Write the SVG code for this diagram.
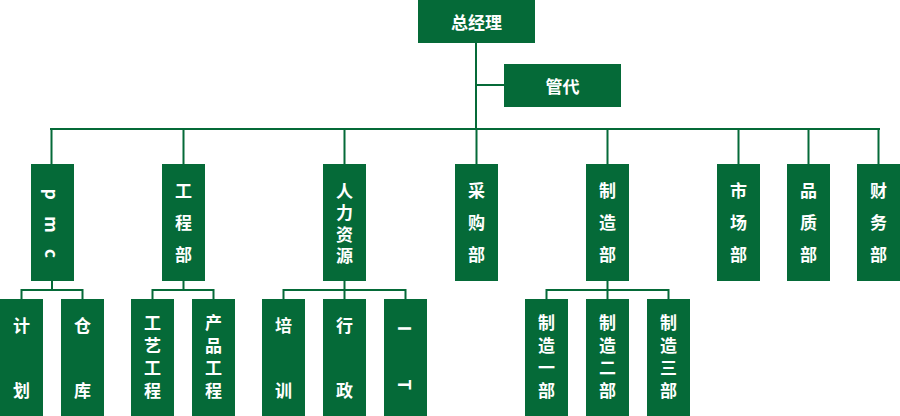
<svg xmlns="http://www.w3.org/2000/svg" width="900" height="416" viewBox="0 0 900 416">
<style>
.box{fill:#056a38}
.c{stroke:#056a38;stroke-width:2;fill:none}
text{fill:#fff;font-family:"Noto Sans CJK SC","Noto Sans",sans-serif;font-size:17px;font-weight:700;text-anchor:middle;dominant-baseline:central}
.v{writing-mode:vertical-rl;text-anchor:start}
.v3{letter-spacing:15px}
.v4{letter-spacing:4.5px}
.s4{letter-spacing:5.5px}
</style>
<rect width="900" height="416" fill="#fff"/>
<g id="connectors" class="c">
<path d="M476 43V129M476 85H504M50 129H880"/>
<path d="M51.5 129V164M183.5 129V164M344.5 129V164M476.5 129V164M607.5 129V164M738.5 129V164M808.5 129V164M878.5 129V164"/>
<path d="M52 281V290M21.5 290H82.5M21.5 289V299M82.5 289V299"/>
<path d="M183.5 281V290M152.5 290H213.5M152.5 289V299M213.5 289V299"/>
<path d="M344.5 281V290M283.5 290H405.5M283.5 289V299M405.5 289V299M344.5 290V299"/>
<path d="M607.5 281V290M546.5 290H668.5M546.5 289V299M668.5 289V299M607.5 290V299"/>
</g>
<g id="n-zjl"><rect class="box" x="418" y="0" width="117" height="43"/><text x="476.5" y="21.5">总经理</text></g>
<g id="n-gd"><rect class="box" x="504" y="64" width="117" height="43"/><text x="562.5" y="85.5">管代</text></g>
<g id="n-pmc"><rect class="box" x="31" y="164" width="43" height="117"/><text class="v" x="52" y="188.7" style="letter-spacing:16.5px">pmc</text></g>
<g id="n-gcb"><rect class="box" x="162" y="164" width="43" height="117"/><text class="v v3" x="183.5" y="182">工程部</text></g>
<g id="n-rlzy"><rect class="box" x="323" y="164" width="43" height="117"/><text class="v v4" x="344.5" y="183">人力资源</text></g>
<g id="n-cgb"><rect class="box" x="455" y="164" width="43" height="117"/><text class="v v3" x="476.5" y="182">采购部</text></g>
<g id="n-zzb"><rect class="box" x="586" y="164" width="43" height="117"/><text class="v v3" x="607.5" y="182">制造部</text></g>
<g id="n-scb"><rect class="box" x="717" y="164" width="43" height="117"/><text class="v v3" x="738.5" y="182">市场部</text></g>
<g id="n-pzb"><rect class="box" x="787" y="164" width="43" height="117"/><text class="v v3" x="808.5" y="182">品质部</text></g>
<g id="n-cwb"><rect class="box" x="857" y="164" width="43" height="117"/><text class="v v3" x="878.5" y="182">财务部</text></g>
<g id="n-jh"><rect class="box" x="0" y="299" width="43" height="117"/><text class="v" x="21.5"><tspan y="317">计</tspan><tspan y="382">划</tspan></text></g>
<g id="n-ck"><rect class="box" x="61" y="299" width="43" height="117"/><text class="v" x="82.5"><tspan y="317">仓</tspan><tspan y="382">库</tspan></text></g>
<g id="n-gygc"><rect class="box" x="131" y="299" width="43" height="117"/><text class="v s4" x="152.5" y="314.5">工艺工程</text></g>
<g id="n-cpgc"><rect class="box" x="192" y="299" width="43" height="117"/><text class="v s4" x="213.5" y="314.5">产品工程</text></g>
<g id="n-px"><rect class="box" x="262" y="299" width="43" height="117"/><text class="v" x="283.5"><tspan y="317">培</tspan><tspan y="382">训</tspan></text></g>
<g id="n-xz"><rect class="box" x="323" y="299" width="43" height="117"/><text class="v" x="344.5"><tspan y="317">行</tspan><tspan y="382">政</tspan></text></g>
<g id="n-it"><rect class="box" x="384" y="299" width="43" height="117"/><text class="v" x="405.5"><tspan y="325.7">I</tspan><tspan y="379">T</tspan></text></g>
<g id="n-zz1"><rect class="box" x="525" y="299" width="43" height="117"/><text class="v s4" x="546.5" y="314.5">制造一部</text></g>
<g id="n-zz2"><rect class="box" x="586" y="299" width="43" height="117"/><text class="v s4" x="607.5" y="314.5">制造二部</text></g>
<g id="n-zz3"><rect class="box" x="647" y="299" width="43" height="117"/><text class="v s4" x="668.5" y="314.5">制造三部</text></g>
</svg>
